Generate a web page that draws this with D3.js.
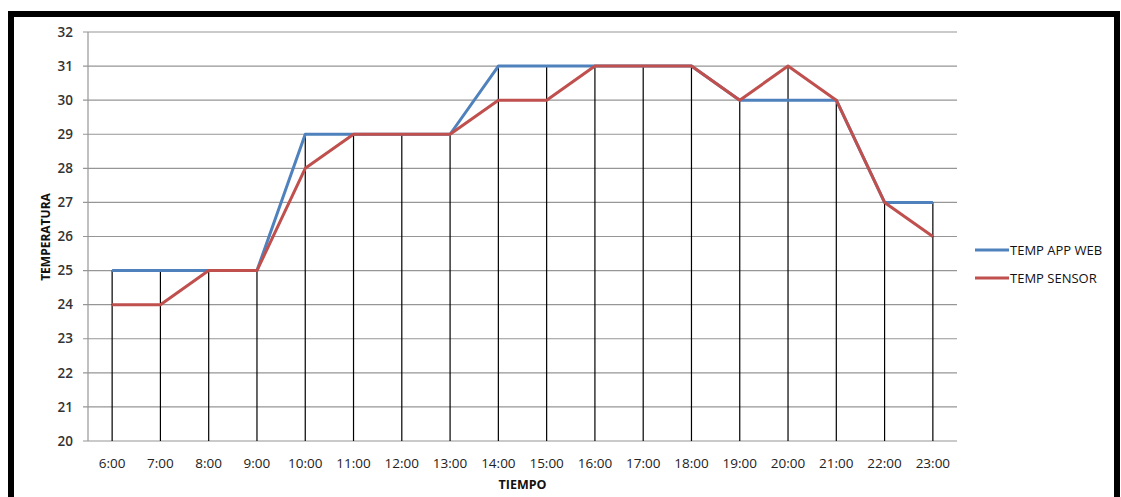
<!DOCTYPE html>
<html><head><meta charset="utf-8">
<script src="https://cdn.jsdelivr.net/npm/d3@7"></script>
<style>body{margin:0;background:#fff;} svg{display:block;}</style>
</head><body>
<svg id="c" width="1121" height="497"></svg>
<script>
const categories = ["6:00","7:00","8:00","9:00","10:00","11:00","12:00","13:00","14:00","15:00","16:00","17:00","18:00","19:00","20:00","21:00","22:00","23:00"];
const appWeb = [25,25,25,25,29,29,29,29,31,31,31,31,31,30,30,30,27,27];
const sensor = [24,24,25,25,28,29,29,29,30,30,31,31,31,30,31,30,27,26];
const yTicks = [20,21,22,23,24,25,26,27,28,29,30,31,32];
const seriesNames = ["TEMP APP WEB","TEMP SENSOR"];
const colors = ["#4F81BD","#C0504D"];

const svg = d3.select("#c");
// outer frame
svg.append("rect").attr("x",11).attr("y",14).attr("width",1106).attr("height",500)
  .attr("fill","#fff").attr("stroke","#000").attr("stroke-width",6);

const L=88,R=957,T=32,B=441;
const x = d3.scaleBand().domain(categories).range([L,R]);
const y = d3.scaleLinear().domain([20,32]).range([B,T]);
const cx = d => x(d)+x.bandwidth()/2;

const font = "'Open Sans', 'Liberation Sans', Arial, sans-serif";

// gridlines
svg.append("g").selectAll("line").data(yTicks).join("line")
  .attr("x1",L-5).attr("x2",R).attr("y1",d=>y(d)).attr("y2",d=>y(d))
  .attr("stroke","#969696").attr("stroke-width",1.2);
// y axis line
svg.append("line").attr("x1",L).attr("x2",L).attr("y1",T).attr("y2",B)
  .attr("stroke","#969696").attr("stroke-width",1.2);

// y labels
svg.append("g").selectAll("text").data(yTicks).join("text")
  .attr("x",73).attr("y",d=>y(d)).attr("dy","0.35em").attr("text-anchor","end")
  .attr("font-family",font).attr("font-size",13.5).attr("font-weight","600").attr("fill","#333")
  .text(d=>d);

// drop lines
svg.append("g").selectAll("line").data(categories).join("line")
  .attr("x1",d=>cx(d)).attr("x2",d=>cx(d))
  .attr("y1",(d,i)=>y(Math.max(appWeb[i],sensor[i]))).attr("y2",B)
  .attr("stroke","#000").attr("stroke-width",1.2);

// x labels
svg.append("g").selectAll("text").data(categories).join("text")
  .attr("x",d=>cx(d)).attr("y",468).attr("text-anchor","middle")
  .attr("font-family",font).attr("font-size",13.5).attr("fill","#222")
  .text(d=>d);

// series
const line = d3.line().x((d,i)=>cx(categories[i])).y(d=>y(d));
[appWeb,sensor].forEach((s,k)=>{
  svg.append("path").datum(s).attr("d",line).attr("fill","none")
    .attr("stroke",colors[k]).attr("stroke-width",3).attr("stroke-linejoin","round");
});

// axis titles
svg.append("text").attr("x",(L+R)/2 - 0).attr("y",489).attr("text-anchor","middle")
  .attr("font-family",font).attr("font-size",12.5).attr("font-weight","bold").attr("fill","#111")
  .text("TIEMPO");
svg.append("text").attr("transform","translate(50,237) rotate(-90)").attr("text-anchor","middle")
  .attr("font-family",font).attr("font-size",12).attr("font-weight","bold").attr("fill","#111")
  .text("TEMPERATURA");

// legend
seriesNames.forEach((n,k)=>{
  const ly = 250 + k*28;
  svg.append("line").attr("x1",975).attr("x2",1009).attr("y1",ly).attr("y2",ly)
    .attr("stroke",colors[k]).attr("stroke-width",3);
  svg.append("text").attr("x",1010).attr("y",ly).attr("dy","0.35em")
    .attr("font-family",font).attr("font-size",13).attr("fill","#111").text(n);
});
</script>
</body></html>
